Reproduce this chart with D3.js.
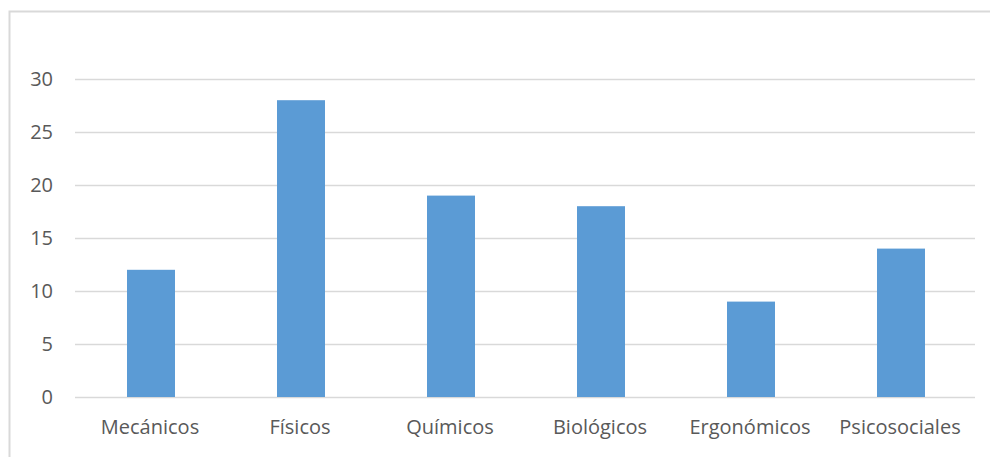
<!DOCTYPE html>
<html>
<head>
<meta charset="utf-8">
<script src="https://cdn.jsdelivr.net/npm/d3@7"></script>
<style>
	body { margin: 0; background: #fff; }
	svg { display: block; }
	text { font-family: "Open Sans", "Noto Sans", sans-serif; fill: #595959; }
</style>
</head>
<body>
<svg id="chart" width="990" height="457"></svg>
<script>
	// categories and values
	var categories = ["Mecánicos", "Físicos", "Químicos", "Biológicos", "Ergonómicos", "Psicosociales"]
	var values = [12, 28, 19, 18, 9, 14]
	var yTicks = [0, 5, 10, 15, 20, 25, 30]

	var data = categories.map(function(c, i) { return {cat: c, value: values[i]} })

	var svg = d3.select("#chart")
	var svgWidth = +svg.attr("width")
	var svgHeight = +svg.attr("height")

	var padding = {t: 79, r: 15, b: 60, l: 75}

	// outer chart frame, only top and left edges are inside the picture
	svg.append("path")
		.attr("d", "M9.5," + svgHeight + "V11.5H" + svgWidth)
		.attr("fill", "none")
		.attr("stroke", "#d9d9d9")
		.attr("stroke-width", 2)

	var x = d3.scaleBand()
		.domain(categories)
		.range([padding.l, svgWidth - padding.r])

	var y = d3.scaleLinear()
		.domain([0, 30])
		.range([svgHeight - padding.b, padding.t])

	// gridlines
	svg.append("g")
		.selectAll("line")
		.data(yTicks)
		.join("line")
		.attr("x1", padding.l)
		.attr("x2", svgWidth - padding.r)
		.attr("y1", function(d) { return Math.round(y(d)) + 0.5 })
		.attr("y2", function(d) { return Math.round(y(d)) + 0.5 })
		.attr("stroke", "#d9d9d9")
		.attr("stroke-width", 1.3)

	// y labels
	svg.append("g")
		.selectAll("text")
		.data(yTicks)
		.join("text")
		.attr("x", 53)
		.attr("y", function(d) { return y(d) })
		.attr("dy", "0.36em")
		.attr("text-anchor", "end")
		.style("font-size", "20px")
		.text(function(d) { return d })

	// bars
	var barW = x.bandwidth() * 0.32
	svg.append("g")
		.selectAll("rect")
		.data(data)
		.join("rect")
		.attr("x", function(d) { return x(d.cat) + x.bandwidth() / 2 - barW / 2 + 1 })
		.attr("y", function(d) { return y(d.value) })
		.attr("width", barW)
		.attr("height", function(d) { return y(0) - y(d.value) })
		.attr("fill", "#5b9bd5")

	// category labels
	svg.append("g")
		.selectAll("text")
		.data(categories)
		.join("text")
		.attr("x", function(d) { return x(d) + x.bandwidth() / 2 })
		.attr("y", 434)
		.attr("text-anchor", "middle")
		.style("font-size", "20px")
		.text(function(d) { return d })
</script>
</body>
</html>
